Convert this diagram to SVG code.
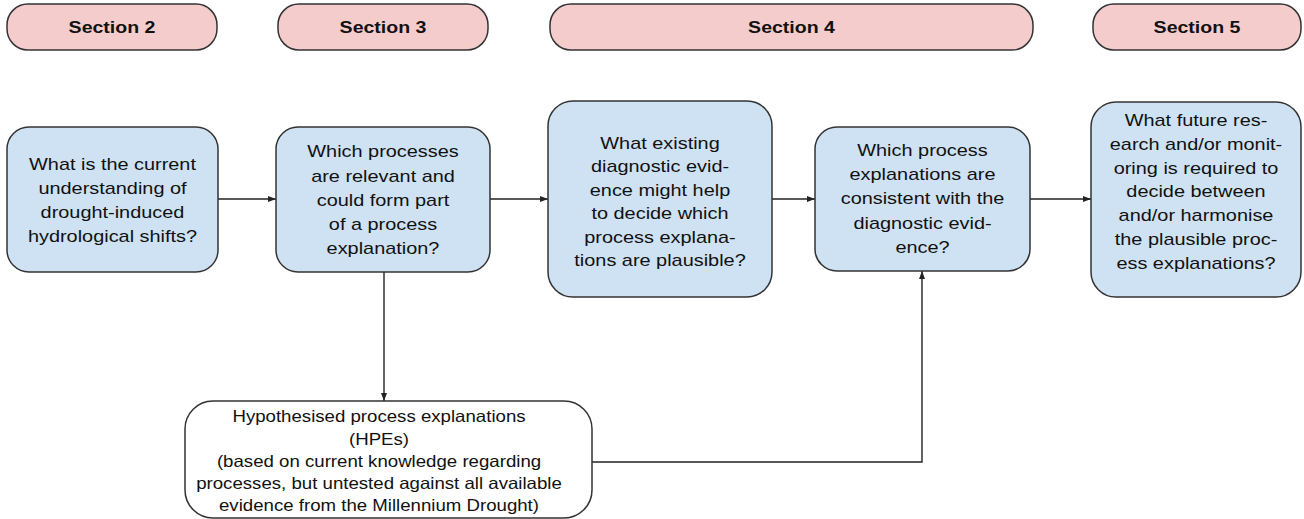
<svg xmlns="http://www.w3.org/2000/svg" width="1304" height="519" viewBox="0 0 1304 519">
<style>
.sec{fill:#f4cccc;stroke:#333;stroke-width:1.5}
.box{fill:#cfe2f3;stroke:#333;stroke-width:1.5}
.hpe{fill:#fff;stroke:#333;stroke-width:1.5}
.st{font-family:"Liberation Sans",Arial,sans-serif;font-weight:bold;font-size:16.7px;fill:#111;text-anchor:middle}
.bt{font-family:"Liberation Sans",Arial,sans-serif;font-size:17px;fill:#111;text-anchor:middle}
.ht{font-family:"Liberation Sans",Arial,sans-serif;font-size:16.5px;fill:#111;text-anchor:middle}
.conn{fill:none;stroke:#222;stroke-width:1.4}
</style>
<defs>
<marker id="arr" markerWidth="8" markerHeight="6" refX="8" refY="3" orient="auto" markerUnits="userSpaceOnUse">
<path d="M0,0 L8,3 L0,6 Z" fill="#222"/>
</marker>
</defs>
<g id="section2"><rect class="sec" x="7" y="4" width="210" height="46" rx="21"/><text class="st" transform="translate(112,33) scale(1.17,1)">Section 2</text></g>
<g id="section3"><rect class="sec" x="278" y="4" width="210" height="46" rx="21"/><text class="st" transform="translate(383,33) scale(1.17,1)">Section 3</text></g>
<g id="section4"><rect class="sec" x="550" y="4" width="483" height="46" rx="21"/><text class="st" transform="translate(791.5,33) scale(1.17,1)">Section 4</text></g>
<g id="section5"><rect class="sec" x="1093" y="4" width="208" height="46" rx="21"/><text class="st" transform="translate(1197,33) scale(1.17,1)">Section 5</text></g>

<g id="connectors">
<path class="conn" d="M218,199 H276" marker-end="url(#arr)"/>
<path class="conn" d="M490,199 H548" marker-end="url(#arr)"/>
<path class="conn" d="M772,199 H815" marker-end="url(#arr)"/>
<path class="conn" d="M1030,199 H1091" marker-end="url(#arr)"/>
<path class="conn" d="M384,272 V401" marker-end="url(#arr)"/>
<path class="conn" d="M592,462 H922 V271" marker-end="url(#arr)"/>
</g>

<g id="box1"><rect class="box" x="7" y="127" width="211" height="145" rx="22"/>
<text class="bt" transform="translate(112.5,0) scale(1.17,1)"><tspan x="0" y="170">What is the current</tspan><tspan x="0" y="194">understanding of</tspan><tspan x="0" y="218">drought-induced</tspan><tspan x="0" y="242">hydrological shifts?</tspan></text></g>

<g id="box2"><rect class="box" x="276" y="127" width="214" height="145" rx="22"/>
<text class="bt" transform="translate(383,0) scale(1.17,1)"><tspan x="0" y="157.5">Which processes</tspan><tspan x="0" y="181.6">are relevant and</tspan><tspan x="0" y="205.7">could form part</tspan><tspan x="0" y="229.8">of a process</tspan><tspan x="0" y="253.9">explanation?</tspan></text></g>

<g id="box3"><rect class="box" x="548" y="101" width="224" height="196" rx="25"/>
<text class="bt" transform="translate(660,0) scale(1.17,1)"><tspan x="0" y="149">What existing</tspan><tspan x="0" y="172.4">diagnostic evid-</tspan><tspan x="0" y="195.8">ence might help</tspan><tspan x="0" y="219.2">to decide which</tspan><tspan x="0" y="242.6">process explana-</tspan><tspan x="0" y="266">tions are plausible?</tspan></text></g>

<g id="box4"><rect class="box" x="815" y="127" width="215" height="144" rx="22"/>
<text class="bt" transform="translate(922.5,0) scale(1.17,1)"><tspan x="0" y="156">Which process</tspan><tspan x="0" y="180.2">explanations are</tspan><tspan x="0" y="204.4">consistent with the</tspan><tspan x="0" y="228.6">diagnostic evid-</tspan><tspan x="0" y="252.8">ence?</tspan></text></g>

<g id="box5"><rect class="box" x="1091" y="102" width="210" height="195" rx="25"/>
<text class="bt" transform="translate(1196,0) scale(1.17,1)"><tspan x="0" y="126">What future res-</tspan><tspan x="0" y="149.8">earch and/or monit-</tspan><tspan x="0" y="173.6">oring is required to</tspan><tspan x="0" y="197.4">decide between</tspan><tspan x="0" y="221.2">and/or harmonise</tspan><tspan x="0" y="245">the plausible proc-</tspan><tspan x="0" y="268.8">ess explanations?</tspan></text></g>

<g id="hpe"><rect class="hpe" x="185" y="401" width="407" height="117" rx="28"/>
<text class="ht" transform="translate(379,0) scale(1.13,1)"><tspan x="0" y="422.5">Hypothesised process explanations</tspan><tspan x="0" y="444.6">(HPEs)</tspan><tspan x="0" y="466.7">(based on current knowledge regarding</tspan><tspan x="0" y="488.8">processes, but untested against all available</tspan><tspan x="0" y="510.9">evidence from the Millennium Drought)</tspan></text></g>
</svg>
